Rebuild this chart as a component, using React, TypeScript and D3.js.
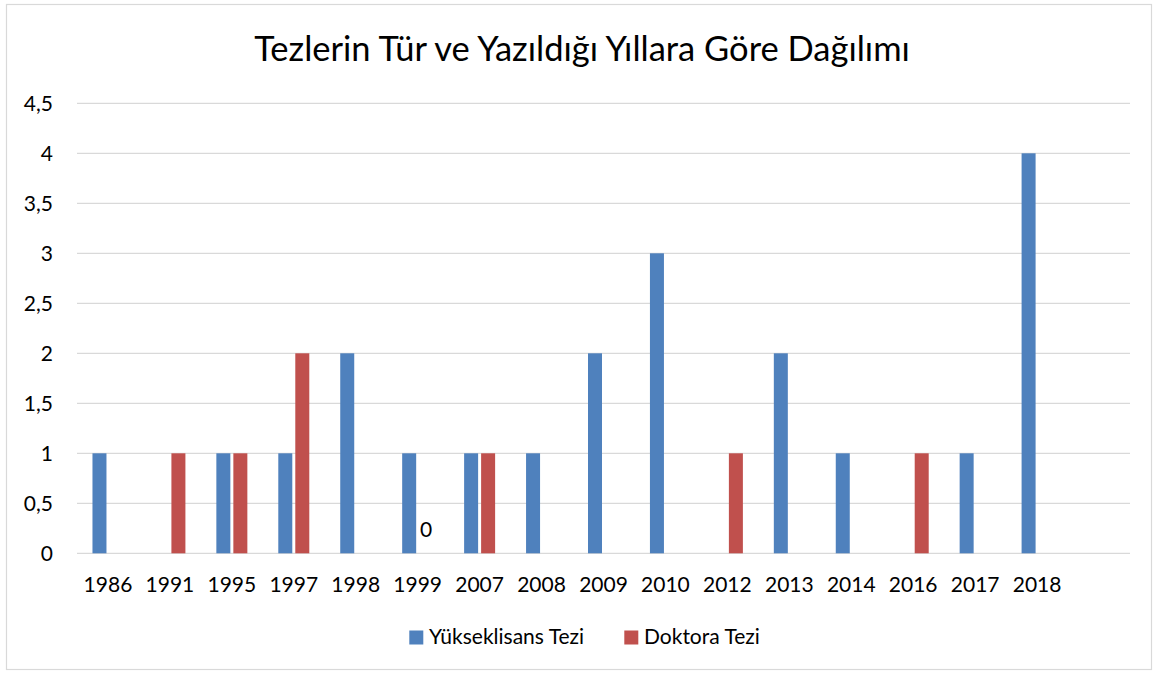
import React from "react";
import * as d3 from "d3";

const title = "Tezlerin Tür ve Yazıldığı Yıllara Göre Dağılımı";
const categories = ["1986", "1991", "1995", "1997", "1998", "1999", "2007", "2008", "2009", "2010", "2012", "2013", "2014", "2016", "2017", "2018", ""];
const seriesNames = ["Yükseklisans Tezi", "Doktora Tezi"];
const yuksekLisans: (number | null)[] = [1, null, 1, 1, 2, 1, 1, 1, 2, 3, null, 2, 1, null, 1, 4, null];
const doktora: (number | null)[] = [null, 1, 1, 2, null, 0, 1, null, null, null, 1, null, null, 1, null, null, null];
const labeledZero = [{ series: 1, category: "1999" }];
const yTicks = [0, 0.5, 1, 1.5, 2, 2.5, 3, 3.5, 4, 4.5];
const colors = ["#4F81BD", "#C0504D"];

const W = 1158;
const H = 673;
const FONT = "Lato, 'Open Sans', sans-serif";

export default function App() {
  const plotLeft = 77;
  const plotRight = 1130;
  const x0 = d3.scaleBand<string>().domain(categories.map((c, i) => c + "#" + i)).range([plotLeft, plotRight]).paddingInner(0).paddingOuter(0);
  const groupW = 31;
  const x1 = d3.scaleBand<string>().domain(seriesNames).range([0, groupW]).paddingInner(0.1765).paddingOuter(0);
  const y = d3.scaleLinear().domain([0, 4.5]).range([553.3, 103.3]);
  const fmt = (v: number) => String(v).replace(".", ",");
  const series = [yuksekLisans, doktora];
  const key = (i: number) => categories[i] + "#" + i;
  const groupOffset = (x0.bandwidth() - groupW) / 2;
  const fs = 21;

  return (
    <svg width={W} height={H} style={{ position: "absolute", left: 0, top: 0, background: "#fff" }} fontFamily={FONT}>
      <rect x={0} y={0} width={W} height={H} fill="#fff" />
      <rect x={6.5} y={4.5} width={1145} height={665} fill="#fff" stroke="#d9d9d9" strokeWidth={1.2} />
      <text x={582} y={61} textAnchor="middle" fontSize={34.5} fill="#000">{title}</text>
      {yTicks.map((t) => (
        <g key={t}>
          <line x1={plotLeft} x2={plotRight} y1={y(t)} y2={y(t)} stroke="#d9d9d9" strokeWidth={1.3} />
          <text x={53} y={y(t)} dy="0.36em" textAnchor="end" fontSize={fs} fill="#000">{fmt(t)}</text>
        </g>
      ))}
      {series.map((vals, si) =>
        vals.map((v, ci) =>
          v === null || v === 0 ? null : (
            <rect key={si + "-" + ci}
              x={(x0(key(ci)) as number) + groupOffset + (x1(seriesNames[si]) as number)}
              y={y(v)} width={x1.bandwidth()} height={y(0) - y(v)} fill={colors[si]} />
          )
        )
      )}
      {labeledZero.map((l) => {
        const ci = categories.indexOf(l.category);
        const v = series[l.series][ci] as number;
        const cx = (x0(key(ci)) as number) + groupOffset + (x1(seriesNames[l.series]) as number) + x1.bandwidth() / 2;
        return <text key={l.category} x={cx} y={y(v) - 16.5} textAnchor="middle" fontSize={fs} fill="#000">{fmt(v)}</text>;
      })}
      {categories.map((c, i) => (
        <text key={i} x={(x0(key(i)) as number) + x0.bandwidth() / 2} y={592} textAnchor="middle" fontSize={fs} fill="#000">{c}</text>
      ))}
      <g>
        <rect x={409.3} y={630.5} width={14} height={14} fill={colors[0]} />
        <text x={429} y={644.3} fontSize={fs} fill="#000">{seriesNames[0]}</text>
        <rect x={624.3} y={630.5} width={14} height={14} fill={colors[1]} />
        <text x={644} y={644.3} fontSize={fs} fill="#000">{seriesNames[1]}</text>
      </g>
    </svg>
  );
}
